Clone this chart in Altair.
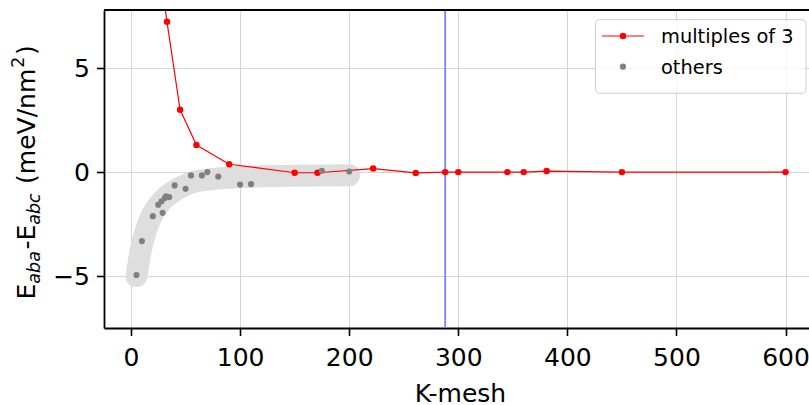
import altair as alt
import pandas as pd

FONT = "DejaVu Sans"

# ---- data ----
red_k = [27, 33, 45, 60, 90, 150, 171, 222, 261, 288, 300, 345, 360, 381, 450, 600]
red_e = [9.5, 7.23, 3.0, 1.3, 0.38, -0.03, -0.03, 0.17, -0.04, 0.0, 0.0, 0.0, 0.0, 0.05, 0.0, 0.0]

gray_k = [5, 10, 20, 25, 28, 29, 31, 32, 35, 40, 50, 55, 65, 70, 80, 100, 110, 175, 200]
gray_e = [-4.95, -3.32, -2.12, -1.57, -1.4, -1.96, -1.25, -1.17, -1.2, -0.64, -0.8, -0.16,
          -0.16, 0.0, -0.21, -0.6, -0.58, 0.06, 0.03]

band_k = [5, 10, 15, 20, 25, 30, 40, 55, 70, 100, 150, 200]
band_e = [-5.0, -3.5, -2.6, -2.0, -1.6, -1.3, -0.9, -0.52, -0.36, -0.24, -0.17, -0.15]

vline_k = [288]

x_ticks = [0, 100, 200, 300, 400, 500, 600]
y_ticks = [-5, 0, 5]

red_df = pd.DataFrame({"k": red_k, "e": red_e})
gray_df = pd.DataFrame({"k": gray_k, "e": gray_e})
band_df = pd.DataFrame({"k": band_k, "e": band_e})
vline_df = pd.DataFrame({"k": vline_k})
dummy = pd.DataFrame({"a": [0]})

W, H = 705, 318

xscale = alt.Scale(domain=[-24.75, 621.5], nice=False, zero=False)
yscale = alt.Scale(domain=[-7.5, 7.8], nice=False, zero=False)

xaxis = alt.Axis(values=x_ticks, format="d", title="K-mesh", grid=True,
                 gridColor="#d5d5d5", gridWidth=1, domainColor="black", domainWidth=1.8,
                 tickColor="black", tickWidth=1.6, tickSize=7.5,
                 labelFont=FONT, labelFontSize=25, labelColor="black", labelPadding=10,
                 labelFlush=False, labelOverlap=False,
                 titleFont=FONT, titleFontSize=25, titleFontWeight="normal", titleColor="black",
                 titleX=356, titleY=73, titleBaseline="alphabetic", titleAlign="center")
yaxis = alt.Axis(values=y_ticks, format="d", title=None, grid=True,
                 gridColor="#d5d5d5", gridWidth=1, domainColor="black", domainWidth=1.8,
                 tickColor="black", tickWidth=1.6, tickSize=7.5,
                 labelFont=FONT, labelFontSize=25, labelColor="black", labelPadding=7,
                 labelFlush=False, labelOverlap=False)

X = alt.X("k:Q", scale=xscale, axis=xaxis)
Y = alt.Y("e:Q", scale=yscale, axis=yaxis)

band = alt.Chart(band_df).mark_line(
    color="#dedede", strokeWidth=22, strokeCap="round", strokeJoin="round",
    interpolate="monotone").encode(x=X, y=Y)

vline = alt.Chart(vline_df).mark_rule(color="#7f7fff", strokeWidth=1.8).encode(x=X)

red_line = alt.Chart(red_df).mark_line(color="red", strokeWidth=1.2, clip=True).encode(x=X, y=Y)
red_pts = alt.Chart(red_df).mark_point(filled=True, color="red", size=42, opacity=1,
                                       clip=True).encode(x=X, y=Y)
gray_pts = alt.Chart(gray_df).mark_point(filled=True, color="#808080", size=38,
                                         opacity=1).encode(x=X, y=Y)

top_frame = alt.Chart(dummy).mark_rule(color="black", strokeWidth=1.8).encode(
    x=alt.value(0), x2=alt.value(W), y=alt.value(0))

# ---- legend ----
leg_box = alt.Chart(dummy).mark_rect(fill="white", fillOpacity=0.8, stroke="#cccccc",
                                     strokeWidth=1, cornerRadius=4).encode(
    x=alt.value(491.5), x2=alt.value(702), y=alt.value(9.7), y2=alt.value(83.3))
leg_line = alt.Chart(dummy).mark_rule(color="red", strokeWidth=1.2).encode(
    x=alt.value(498), x2=alt.value(540), y=alt.value(26))
leg_red = alt.Chart(dummy).mark_point(filled=True, color="red", size=42, opacity=1).encode(
    x=alt.value(519), y=alt.value(26))
leg_gray = alt.Chart(dummy).mark_point(filled=True, color="#808080", size=38, opacity=1).encode(
    x=alt.value(519), y=alt.value(56.7))
leg_t1 = alt.Chart(dummy).mark_text(align="left", baseline="alphabetic", font=FONT,
                                    fontSize=19.4, color="black").encode(
    x=alt.value(557), y=alt.value(33.3), text=alt.value("multiples of 3"))
leg_t2 = alt.Chart(dummy).mark_text(align="left", baseline="alphabetic", font=FONT,
                                    fontSize=19.4, color="black").encode(
    x=alt.value(557), y=alt.value(64), text=alt.value("others"))

# ---- y title with sub/superscripts (text, size, style, baseline shift, offset along text) ----
title_pieces = [
    ("E", 25, "normal", 0.0, 0.0),
    ("aba", 17.5, "italic", 4.7, 15.8),
    ("-E", 25, "normal", 0.0, 49.9),
    ("abc", 17.5, "italic", 4.7, 74.7),
    ("(meV/nm", 25, "normal", 0.0, 115.6),
    ("2", 17.5, "normal", -11.8, 231.8),
    (")", 25, "normal", 0.0, 244.4),
]
tx0, ty0 = -68.7, 289.5
title_layers = []
for txt, fs, style, shift, off in title_pieces:
    title_layers.append(
        alt.Chart(dummy).mark_text(align="left", baseline="alphabetic", angle=270, font=FONT,
                                   fontSize=fs, fontStyle=style, color="black").encode(
            x=alt.value(tx0 + shift), y=alt.value(ty0 - off), text=alt.value(txt)))

chart = alt.layer(band, vline, red_line, red_pts, gray_pts, top_frame,
                  leg_box, leg_line, leg_red, leg_gray, leg_t1, leg_t2,
                  *title_layers).properties(
    width=W, height=H,
    autosize=alt.AutoSizeParams(type="none"),
    padding={"left": 104, "top": 10, "right": 0, "bottom": 77},
).configure_view(stroke=None)

chart.save("out.html", embed_options={"renderer": "svg", "actions": False})
